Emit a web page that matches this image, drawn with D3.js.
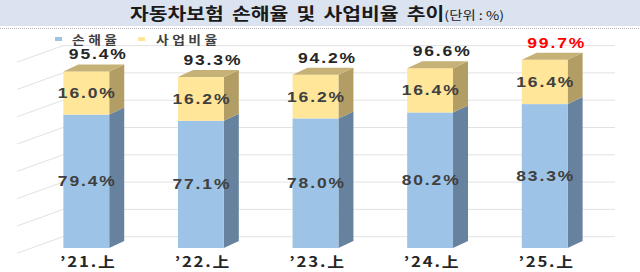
<!DOCTYPE html>
<html>
<head>
<meta charset="utf-8">
<script src="https://cdn.jsdelivr.net/npm/d3@7"></script>
<style>
  body { margin: 0; background: #fff; }
  svg { display: block; }
</style>
</head>
<body>
<svg width="640" height="272"></svg>
<script>
// data
const periods = ["’21.上", "’22.上", "’23.上", "’24.上", "’25.上"];
const lossRatio = [79.4, 77.1, 78.0, 80.2, 83.3];
const expenseRatio = [16.0, 16.2, 16.2, 16.4, 16.4];
const combined = [95.4, 93.3, 94.2, 96.6, 99.7];
const gridValues = [30, 40, 50, 60, 70, 80, 90, 100];

const svg = d3.select("svg"),
    width = +svg.attr("width"),
    height = +svg.attr("height");

const font = "'Noto Sans CJK KR', 'Noto Sans', sans-serif";
const numFont = "'Liberation Sans', Arial, sans-serif";

// title band
svg.append("rect")
  .attr("x", 0).attr("y", 0)
  .attr("width", width).attr("height", 26)
  .attr("fill", "#dbe3f1");
svg.append("line")
  .attr("x1", 0).attr("x2", width)
  .attr("y1", 28.5).attr("y2", 28.5)
  .attr("stroke", "#b8b8b8")
  .attr("stroke-dasharray", "1,1");

const title = svg.append("text")
  .attr("transform", "translate(130,20) scale(1.2,1)")
  .style("font-family", font)
  .style("fill", "#1a1a1a");
title.append("tspan")
  .style("font-size", "17px")
  .style("font-weight", "bold")
  .style("word-spacing", "3px")
  .text("자동차보험 손해율 및 사업비율 추이");
title.append("tspan")
  .style("font-size", "12px")
  .text("(단위 : %)");

// scales
const x = d3.scaleBand()
  .domain(periods)
  .range([29, 602])
  .paddingInner(0.6)
  .paddingOuter(0.3);

const y = d3.scaleLinear().domain([30, 100]).range([248, 59]);
const yWall = d3.scaleLinear().domain([30, 100]).range([236.7, 45.6]);

const depthX = 15, depthY = -7;
const wallLeft = 17, wallBack = 63, wallRight = 615, wallDrop = 16.6;

// back wall grid
const grid = svg.append("g")
  .attr("stroke", "#e2e2e2")
  .attr("stroke-width", 1)
  .attr("fill", "none");
grid.selectAll("line.h")
  .data(gridValues)
  .join("line")
    .attr("class", "h")
    .attr("x1", wallBack).attr("x2", wallRight)
    .attr("y1", d => yWall(d)).attr("y2", d => yWall(d));
grid.selectAll("line.d")
  .data(gridValues)
  .join("line")
    .attr("class", "d")
    .attr("x1", wallLeft).attr("y1", d => yWall(d) + wallDrop)
    .attr("x2", wallBack).attr("y2", d => yWall(d));

// stacked segments
const segments = [];
periods.forEach((p, i) => {
  segments.push({ p, lo: 30, hi: lossRatio[i], v: lossRatio[i], kind: "loss", top: false });
  segments.push({ p, lo: lossRatio[i], hi: lossRatio[i] + expenseRatio[i], v: expenseRatio[i], kind: "exp", top: true });
});

const colors = {
  loss: { front: "#9dc3e6", side: "#66829f", top: "#7f9fbf" },
  exp: { front: "#ffe699", side: "#b29d64", top: "#c6b277" }
};

const bars = svg.append("g");
const bw = x.bandwidth();

bars.selectAll("g.seg")
  .data(segments)
  .join("g")
    .attr("class", "seg")
    .each(function(d) {
      const g = d3.select(this);
      const x0 = x(d.p), x1 = x0 + bw;
      const yt = y(d.hi), yb = y(d.lo);
      g.append("path")
        .attr("d", `M${x1},${yb}L${x1 + depthX},${yb + depthY}L${x1 + depthX},${yt + depthY}L${x1},${yt}Z`)
        .attr("fill", colors[d.kind].side);
      g.append("rect")
        .attr("x", x0).attr("y", yt)
        .attr("width", bw).attr("height", yb - yt)
        .attr("fill", colors[d.kind].front);
      if (d.top) {
        g.append("path")
          .attr("d", `M${x0},${yt}L${x0 + depthX},${yt + depthY}L${x1 + depthX},${yt + depthY}L${x1},${yt}Z`)
          .attr("fill", colors[d.kind].top);
      }
    });

// stretched bold number label helper
function wideText(sel) {
  sel.attr("text-anchor", "middle")
    .style("font-family", numFont)
    .style("font-weight", "bold")
    .style("font-size", "14px")
    .style("letter-spacing", "1.5px");
}

// labels inside segments
svg.append("g")
  .selectAll("text")
  .data(segments)
  .join("text")
    .attr("transform", d => `translate(${x(d.p) + bw / 2 + 1},${(y(d.hi) + y(d.lo)) / 2}) scale(1.25,1)`)
    .attr("dy", "0.36em")
    .call(wideText)
    .style("fill", "#404040")
    .text(d => d.v.toFixed(1) + "%");

// totals
svg.append("g")
  .selectAll("text")
  .data(periods)
  .join("text")
    .attr("transform", (d, i) => `translate(${x(d) + bw / 2 + 12},${y(combined[i]) - 12}) scale(1.25,1)`)
    .call(wideText)
    .style("fill", (d, i) => i === periods.length - 1 ? "#ff0000" : "#262626")
    .text((d, i) => combined[i].toFixed(1) + "%");

// x axis labels
svg.append("g")
  .selectAll("text")
  .data(periods)
  .join("text")
    .attr("transform", d => `translate(${x(d) + bw / 2 + 2},267) scale(1.2,1)`)
    .attr("text-anchor", "middle")
    .style("font-family", font)
    .style("font-weight", "bold")
    .style("font-size", "14px")
    .style("letter-spacing", "1.5px")
    .style("fill", "#262626")
    .text(d => d);

// legend
const legendItems = [
  { name: "손해율", color: colors.loss.front, x: 55, tx: 72 },
  { name: "사업비율", color: colors.exp.front, x: 138, tx: 156 }
];
const legend = svg.append("g")
  .selectAll("g")
  .data(legendItems)
  .join("g");
legend.append("rect")
  .attr("x", d => d.x).attr("y", 37)
  .attr("width", 7).attr("height", 4)
  .attr("fill", d => d.color);
legend.append("text")
  .attr("transform", d => `translate(${d.tx},45) scale(1.15,1)`)
  .style("font-family", font)
  .style("font-weight", "bold")
  .style("font-size", "12px")
  .style("letter-spacing", "3px")
  .style("fill", "#404040")
  .text(d => d.name);
</script>
</body>
</html>
